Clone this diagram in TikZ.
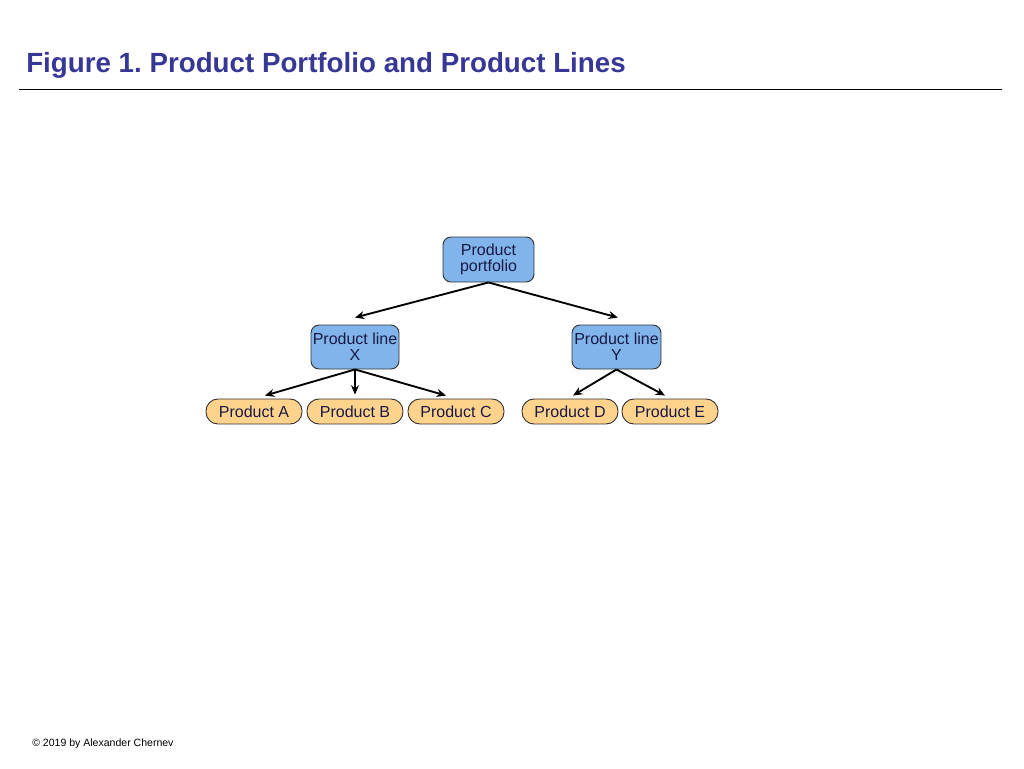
\documentclass[tikz,border=0pt]{standalone}
\usepackage{fontspec}
\setmainfont{Liberation Sans}
\usetikzlibrary{arrows.meta}
\frenchspacing
\definecolor{titleblue}{RGB}{55,55,150}
\definecolor{boxblue}{RGB}{128,180,234}
\definecolor{boxorange}{RGB}{255,211,140}
\definecolor{txtnavy}{RGB}{25,25,70}
\tikzset{
  linebox/.style={draw=black!80, line width=0.7pt, fill=boxblue, rounded corners=6pt,
    align=center, text=txtnavy, inner sep=0pt,
    font=\fontsize{12}{12}\selectfont},
  prodbox/.style={draw=black!80, line width=0.7pt, fill=boxorange, rounded corners=9pt,
    minimum width=72pt, minimum height=18.75pt, inner sep=0pt, text=txtnavy,
    font=\fontsize{12}{12}\selectfont},
  conn/.style={line width=1.4pt, -{Stealth[length=7pt,width=6pt]}}
}
\begin{document}
\begin{tikzpicture}[x=0.75pt,y=-0.75pt]
\useasboundingbox (0,0) rectangle (1024,768);
\node[anchor=base west, text=titleblue, font=\fontsize{20.8}{21}\selectfont\bfseries, inner sep=0pt] (title) at (26,72) {Figure 1. Product Portfolio and Product Lines};
\coordinate (rl) at (19,89);
\coordinate (rr) at (1002,89);
\draw[line width=0.6pt] (rl) -- (rr);

\node[linebox, minimum width=68.25pt, minimum height=33.75pt] (pf) at (488.5,259.5) {Product\\portfolio};
\node[linebox, minimum width=66pt, minimum height=33pt] (lx) at (355,347) {Product line\\X};
\node[linebox, minimum width=66.75pt, minimum height=33pt] (ly) at (616.5,347) {Product line\\Y};

\node[prodbox] (pa) at (254,411.5) {Product A};
\node[prodbox] (pb) at (355,411.5) {Product B};
\node[prodbox] (pc) at (456,411.5) {Product C};
\node[prodbox] (pd) at (570,411.5) {Product D};
\node[prodbox] (pe) at (670,411.5) {Product E};

\draw[conn] (pf.south) -- ([yshift=5.25pt]lx.north);
\draw[conn] (pf.south) -- ([xshift=1pt,yshift=5.25pt]ly.north);
\draw[conn] (lx.south) -- ([xshift=8.25pt,yshift=2.25pt]pa.north);
\draw[conn] (lx.south) -- ([yshift=3pt]pb.north);
\draw[conn] (lx.south) -- ([xshift=-7.5pt,yshift=2.25pt]pc.north);
\draw[conn] (ly.south) -- ([xshift=2.25pt,yshift=2.25pt]pd.north);
\draw[conn] (ly.south) -- ([xshift=-3.75pt,yshift=2.25pt]pe.north);

\node[anchor=base west, inner sep=0pt, font=\fontsize{7.9}{8}\selectfont] (copy) at (32,746) {\textcopyright\ 2019 by Alexander Chernev};
\end{tikzpicture}
\end{document}
